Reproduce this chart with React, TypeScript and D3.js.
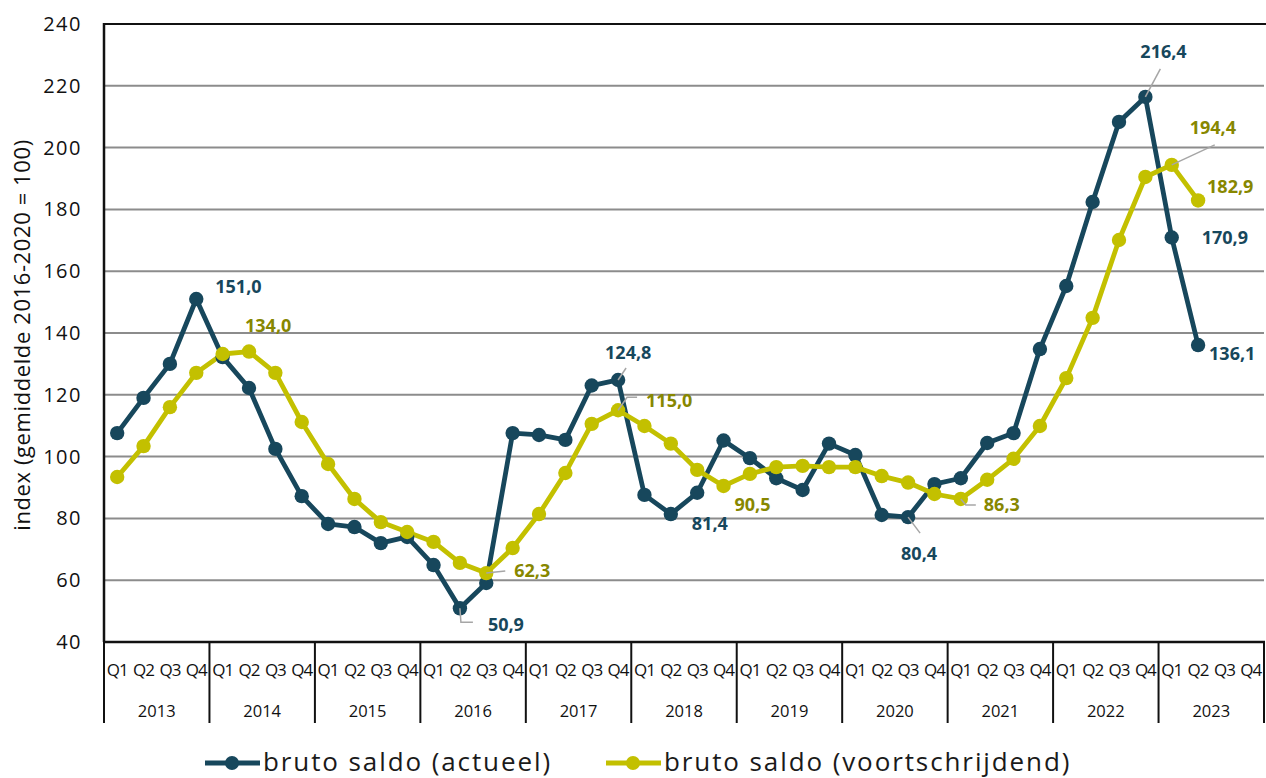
import React from "react";
import * as d3 from "d3";

const years = ["2013","2014","2015","2016","2017","2018","2019","2020","2021","2022","2023"];
const quarters = ["Q1","Q2","Q3","Q4"];
const yTicks = [40,60,80,100,120,140,160,180,200,220,240];

const actueel = [
  107.6,119.0,130.0,151.0,
  132.2,122.2,102.5,87.2,
  78.2,77.2,72.0,74.0,
  64.9,50.9,59.1,107.6,
  107.0,105.4,123.0,124.8,
  87.6,81.4,88.3,105.2,
  99.5,93.0,89.2,104.2,
  100.5,81.1,80.4,91.1,
  93.0,104.4,107.6,134.8,
  155.2,182.4,208.3,216.4,
  170.9,136.1,
];
const voortschrijdend = [
  93.4,103.4,116.0,127.1,
  133.2,134.0,127.1,111.2,
  97.6,86.3,78.8,75.6,
  72.4,65.6,62.3,70.4,
  81.4,94.7,110.6,115.0,
  109.9,104.2,95.7,90.5,
  94.4,96.6,97.0,96.6,
  96.6,93.7,91.6,87.9,
  86.3,92.5,99.3,109.9,
  125.4,144.9,170.1,190.5,
  194.4,182.9,
];

const seriesNames = ["bruto saldo (actueel)", "bruto saldo (voortschrijdend)"];

const DARK = "#17475c";
const YEL = "#c3c000";
const YEL_TXT = "#878700";

type Ann = { s: 0 | 1; i: number; dx: number; dy: number; leader?: [number, number][] };
const anns: Ann[] = [
  { s: 0, i: 3, dx: 19, dy: -12 },
  { s: 1, i: 5, dx: -4, dy: -26 },
  { s: 0, i: 19, dx: -13, dy: -27, leader: [[0, 0], [8, -12]] },
  { s: 1, i: 19, dx: 28, dy: -10, leader: [[0, 0], [9, -13], [19, -13]] },
  { s: 1, i: 14, dx: 28, dy: -2, leader: [[0, 0], [19, -2]] },
  { s: 0, i: 13, dx: 28, dy: 16, leader: [[0, 0], [1, 14], [13, 14]] },
  { s: 0, i: 21, dx: 21, dy: 10 },
  { s: 1, i: 23, dx: 11, dy: 19 },
  { s: 0, i: 30, dx: -7, dy: 37, leader: [[0, 0], [12, 16]] },
  { s: 1, i: 32, dx: 23, dy: 6, leader: [[0, 0], [5, 6], [15, 6]] },
  { s: 0, i: 39, dx: -5, dy: -45, leader: [[0, 0], [15, -28]] },
  { s: 1, i: 40, dx: 18, dy: -37, leader: [[0, 0], [43, -20]] },
  { s: 1, i: 41, dx: 9, dy: -14 },
  { s: 0, i: 40, dx: 30, dy: 0 },
  { s: 0, i: 41, dx: 11, dy: 9 },
];

const W = 1266, H = 778;
const L = 104, R = 1264, T = 24, B = 642;
const FONT = "'Open Sans', 'DejaVu Sans', sans-serif";

export default function App() {
  const keys = years.flatMap((y) => quarters.map((q) => `${y}-${q}`));
  const x = d3.scaleBand<string>().domain(keys).range([L, R]);
  const y = d3.scaleLinear().domain([40, 240]).range([B, T]);
  const cx = (i: number) => (x(keys[i]) as number) + x.bandwidth() / 2;
  const line = d3.line<number>().x((_, i) => cx(i)).y((d) => y(d));
  const data = [actueel, voortschrijdend];
  const colors = [DARK, YEL];
  const yearW = x.bandwidth() * 4;

  return (
    <svg width={W} height={H} style={{ position: "absolute", left: 0, top: 0, background: "#fff" }} fontFamily={FONT}>
      {yTicks.slice(1, -1).map((t) => (
        <line key={t} x1={L} x2={R} y1={y(t)} y2={y(t)} stroke="#8c8c8c" strokeWidth={2} />
      ))}
      <line x1={L} x2={W} y1={y(240)} y2={y(240)} stroke="#111" strokeWidth={2} />
      <line x1={L} x2={L} y1={T - 1} y2={B} stroke="#111" strokeWidth={2.5} />
      <line x1={L} x2={R + 1} y1={B} y2={B} stroke="#111" strokeWidth={2.5} />
      {yTicks.map((t) => (
        <text key={t} x={82} y={y(t)} dy="0.35em" textAnchor="end" fontSize={20} letterSpacing={1.5} fill="#111">{t}</text>
      ))}
      <text transform={`translate(22,${(T + B) / 2 + 2}) rotate(-90)`} textAnchor="middle" dy="0.35em" fontSize={22} letterSpacing={0.6} fill="#111">
        index (gemiddelde 2016-2020 = 100)
      </text>
      {years.map((yr, k) => (
        <line key={yr} x1={L + k * yearW} x2={L + k * yearW} y1={B} y2={723} stroke="#111" strokeWidth={2} />
      ))}
      <line x1={R} x2={R} y1={B} y2={723} stroke="#111" strokeWidth={2} />
      {keys.map((k, i) => (
        <text key={k} x={cx(i)} y={670} dy="0.35em" textAnchor="middle" fontSize={17} letterSpacing={-1} fill="#111">
          {quarters[i % 4]}
        </text>
      ))}
      {years.map((yr, k) => (
        <text key={yr} x={L + k * yearW + yearW / 2} y={711} dy="0.35em" textAnchor="middle" fontSize={16.5} fill="#111">{yr}</text>
      ))}
      {data.map((d, s) => (
        <path key={s} d={line(d) || ""} fill="none" stroke={colors[s]} strokeWidth={4.8} strokeLinejoin="round" />
      ))}
      {data.map((d, s) => (
        <g key={"m" + s}>
          {d.map((v, i) => (
            <circle key={i} cx={cx(i)} cy={y(v)} r={7.2} fill={colors[s]} />
          ))}
        </g>
      ))}
      {anns.map((a, k) => {
        const v = data[a.s][a.i];
        const px = cx(a.i), py = y(v);
        return (
          <g key={k}>
            {a.leader && (
              <polyline points={a.leader.map(([lx, ly]) => `${px + lx},${py + ly}`).join(" ")} fill="none" stroke="#a6a6a6" strokeWidth={1.5} />
            )}
            <text x={px + a.dx} y={py + a.dy} dy="0.35em" textAnchor="start" fontSize={18} fontWeight={700} fill={a.s === 0 ? DARK : YEL_TXT}>
              {d3.format(".1f")(v).replace(".", ",")}
            </text>
          </g>
        );
      })}
      {seriesNames.map((n, s) => {
        const lx = s === 0 ? 205 : 606;
        return (
          <g key={n}>
            <line x1={lx} x2={lx + 55} y1={763} y2={763} stroke={colors[s]} strokeWidth={5} />
            <circle cx={lx + 27} cy={763} r={7} fill={colors[s]} />
            <text x={lx + 58} y={771} fontSize={26} letterSpacing={1.9} fill="#1a1a1a">{n}</text>
          </g>
        );
      })}
    </svg>
  );
}
